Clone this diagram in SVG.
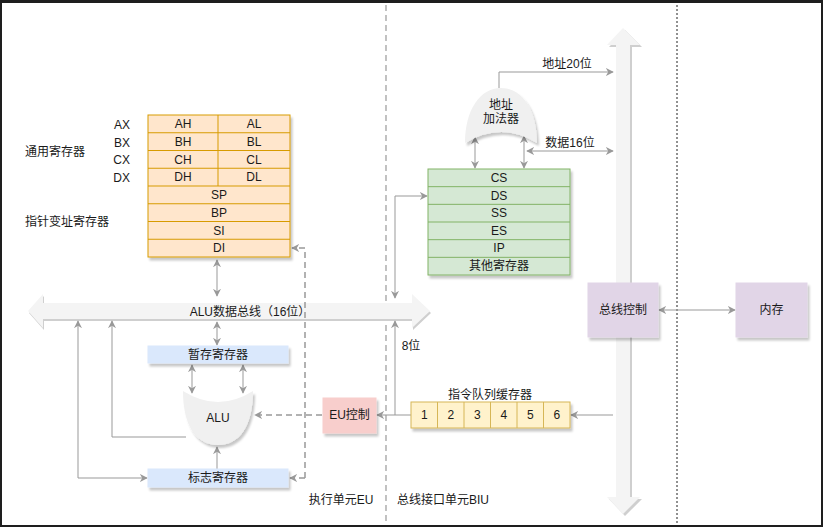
<svg xmlns="http://www.w3.org/2000/svg" width="823" height="527" viewBox="0 0 823 527">
<style>
text{font-family:"Liberation Sans","Noto Sans CJK SC",sans-serif;font-size:12px;fill:#1a1a1a;text-anchor:middle;dominant-baseline:central}
.l{text-anchor:start}
.r{text-anchor:end}
.org{fill:#ffe6cc;stroke:#d79b00;stroke-width:1}
.grn{fill:#d5e8d4;stroke:#82b366;stroke-width:1}
.blu{fill:#dae8fc;stroke:#dae8fc}
.pur{fill:#e1d5e7;stroke:#e1d5e7}
.red{fill:#f8cecc;stroke:#f8cecc}
.yel{fill:#fff2cc;stroke:#d6b656;stroke-width:1}
.gate{fill:#f0f0f0;stroke:none}
.bus{fill:#f4f4f4;stroke:none}
.busS{fill:#cfcfcf;stroke:none}
.c{fill:none;stroke:#999;stroke-width:1}
.cd{fill:none;stroke:#999;stroke-width:1.5;stroke-dasharray:6,4}
</style>
<defs>
<filter id="sh" x="-20%" y="-20%" width="150%" height="150%">
<feDropShadow dx="2" dy="3" stdDeviation="0.8" flood-color="#000" flood-opacity="0.22"/>
</filter>
<marker id="a" viewBox="0 0 10 10" refX="9" refY="5" markerWidth="8" markerHeight="8" markerUnits="userSpaceOnUse" orient="auto-start-reverse">
<path d="M0,0 L10,5 L0,10 L3,5 Z" fill="#999"/>
</marker>
</defs>
<rect x="0" y="0" width="823" height="527" fill="#1e1e1e"/>
<rect x="2" y="3" width="819" height="522" fill="#ffffff"/>

<g id="dividers">
<line x1="386" y1="5" x2="386" y2="523" stroke="#999" stroke-width="1.2" stroke-dasharray="6,4"/>
<line x1="677" y1="5" x2="677" y2="523" stroke="#222" stroke-width="1" stroke-dasharray="2,2"/>
</g>

<g id="system-bus">
<path class="busS" transform="translate(2,2)" d="M623,28 L640,45 L630,45 L630,497 L640,497 L623,514 L607,497 L616,497 L616,45 L607,45 Z"/>
<path class="bus" d="M623,28 L640,45 L630,45 L630,497 L640,497 L623,514 L607,497 L616,497 L616,45 L607,45 Z"/>
</g>

<g id="alu-bus">
<path class="busS" transform="translate(1,2)" d="M28,311 L43,294 L43,303 L412,303 L412,294 L430,311 L412,328 L412,319 L43,319 L43,328 Z"/>
<path class="bus" d="M28,311 L43,294 L43,303 L412,303 L412,294 L430,311 L412,328 L412,319 L43,319 L43,328 Z"/>
<text x="250" y="312">ALU数据总线（16位）</text>
</g>

<g id="connectors">
<path class="c" d="M217,260 L217,296" marker-start="url(#a)" marker-end="url(#a)"/>
<path class="c" d="M217,322 L217,345" marker-start="url(#a)" marker-end="url(#a)"/>
<path class="c" d="M192,365 L192,393" marker-start="url(#a)" marker-end="url(#a)"/>
<path class="c" d="M243,365 L243,393" marker-start="url(#a)" marker-end="url(#a)"/>
<path class="c" d="M217,469 L217,447" marker-end="url(#a)"/>
<path class="c" d="M186,437 L112,437 L112,321" marker-end="url(#a)"/>
<path class="c" d="M78,321 L78,478 L147,478" marker-start="url(#a)" marker-end="url(#a)"/>
<path class="cd" d="M322,415 L255,415" marker-end="url(#a)"/>
<path class="cd" d="M305,478 L305,248 L292,248" marker-end="url(#a)"/>
<path class="cd" d="M305,478 L290,478" marker-end="url(#a)"/>
<path class="c" d="M613,415 L571,415" marker-end="url(#a)"/>
<path class="c" d="M411,415 L377,415" marker-end="url(#a)"/>
<path class="c" d="M395,415 L395,321" marker-end="url(#a)"/>
<path class="c" d="M395,298 L395,196 L427,196" marker-start="url(#a)" marker-end="url(#a)"/>
<path class="c" d="M475,137 L475,168" marker-start="url(#a)" marker-end="url(#a)"/>
<path class="c" d="M524,136 L524,168" marker-start="url(#a)" marker-end="url(#a)"/>
<path class="c" d="M527,151 L613,151" marker-start="url(#a)" marker-end="url(#a)"/>
<path class="c" d="M499,88 L499,72 L613,72" marker-end="url(#a)"/>
<path class="c" d="M659,310 L735,310" marker-start="url(#a)" marker-end="url(#a)"/>
</g>

<g id="labels">
<text x="567" y="64">地址20位</text>
<text x="570" y="143">数据16位</text>
<text x="411" y="346">8位</text>
<text x="490" y="395">指令队列缓存器</text>
<text class="l" x="25" y="152">通用寄存器</text>
<text class="l" x="25" y="222">指针变址寄存器</text>
<text class="r" x="130" y="125">AX</text>
<text class="r" x="130" y="143">BX</text>
<text class="r" x="130" y="160">CX</text>
<text class="r" x="130" y="178">DX</text>
<text x="341" y="500">执行单元EU</text>
<text x="443" y="500">总线接口单元BIU</text>
</g>

<g id="general-registers">
<g filter="url(#sh)">
<rect class="org" x="148" y="115" width="142" height="142"/>
</g>
<path fill="none" stroke="#d79b00" d="M148,132.75 H290 M148,150.5 H290 M148,168.25 H290 M148,186 H290 M148,203.75 H290 M148,221.5 H290 M148,239.25 H290 M218,115 V186"/>
<text x="183" y="124">AH</text><text x="254" y="124">AL</text>
<text x="183" y="142">BH</text><text x="254" y="142">BL</text>
<text x="183" y="160">CH</text><text x="254" y="160">CL</text>
<text x="183" y="177">DH</text><text x="254" y="177">DL</text>
<text x="219" y="195">SP</text>
<text x="219" y="213">BP</text>
<text x="219" y="231">SI</text>
<text x="219" y="248">DI</text>
</g>

<g id="segment-registers">
<g filter="url(#sh)">
<rect class="grn" x="428" y="169" width="142" height="106"/>
</g>
<path fill="none" stroke="#82b366" d="M428,186.67 H570 M428,204.33 H570 M428,222 H570 M428,239.67 H570 M428,257.33 H570"/>
<text x="499" y="178">CS</text>
<text x="499" y="196">DS</text>
<text x="499" y="213">SS</text>
<text x="499" y="231">ES</text>
<text x="499" y="248">IP</text>
<text x="499" y="266">其他寄存器</text>
</g>

<g id="address-adder">
<path class="gate" filter="url(#sh)" d="M465,143 C465,110 480,88 501,88 C522,88 537,110 537,143 Q501,121 465,143 Z"/>
<text x="501" y="105">地址</text>
<text x="501" y="119">加法器</text>
</g>

<g id="temp-register">
<rect class="blu" filter="url(#sh)" x="148" y="346" width="140" height="17"/>
<text x="218" y="355">暂存寄存器</text>
</g>

<g id="alu">
<path class="gate" filter="url(#sh)" d="M183,391 Q218,413 253,391 C253,425 240,445 218,445 C196,445 183,425 183,391 Z"/>
<text x="218" y="418">ALU</text>
</g>

<g id="flag-register">
<rect class="blu" filter="url(#sh)" x="148" y="469" width="140" height="18"/>
<text x="218" y="478">标志寄存器</text>
</g>

<g id="eu-control">
<rect class="red" filter="url(#sh)" x="323" y="398" width="53" height="35"/>
<text x="349.5" y="415">EU控制</text>
</g>

<g id="instruction-queue">
<g filter="url(#sh)">
<rect class="yel" x="411" y="402" width="159" height="26"/>
</g>
<path fill="none" stroke="#d6b656" d="M437.5,402 V428 M464,402 V428 M490.5,402 V428 M517,402 V428 M543.5,402 V428"/>
<text x="424.25" y="415">1</text>
<text x="450.75" y="415">2</text>
<text x="477.25" y="415">3</text>
<text x="503.75" y="415">4</text>
<text x="530.25" y="415">5</text>
<text x="556.75" y="415">6</text>
</g>

<g id="bus-control">
<rect class="pur" filter="url(#sh)" x="588" y="283" width="70" height="54"/>
<text x="623" y="310">总线控制</text>
</g>

<g id="memory">
<rect class="pur" filter="url(#sh)" x="736" y="283" width="71" height="54"/>
<text x="771.5" y="310">内存</text>
</g>
</svg>
